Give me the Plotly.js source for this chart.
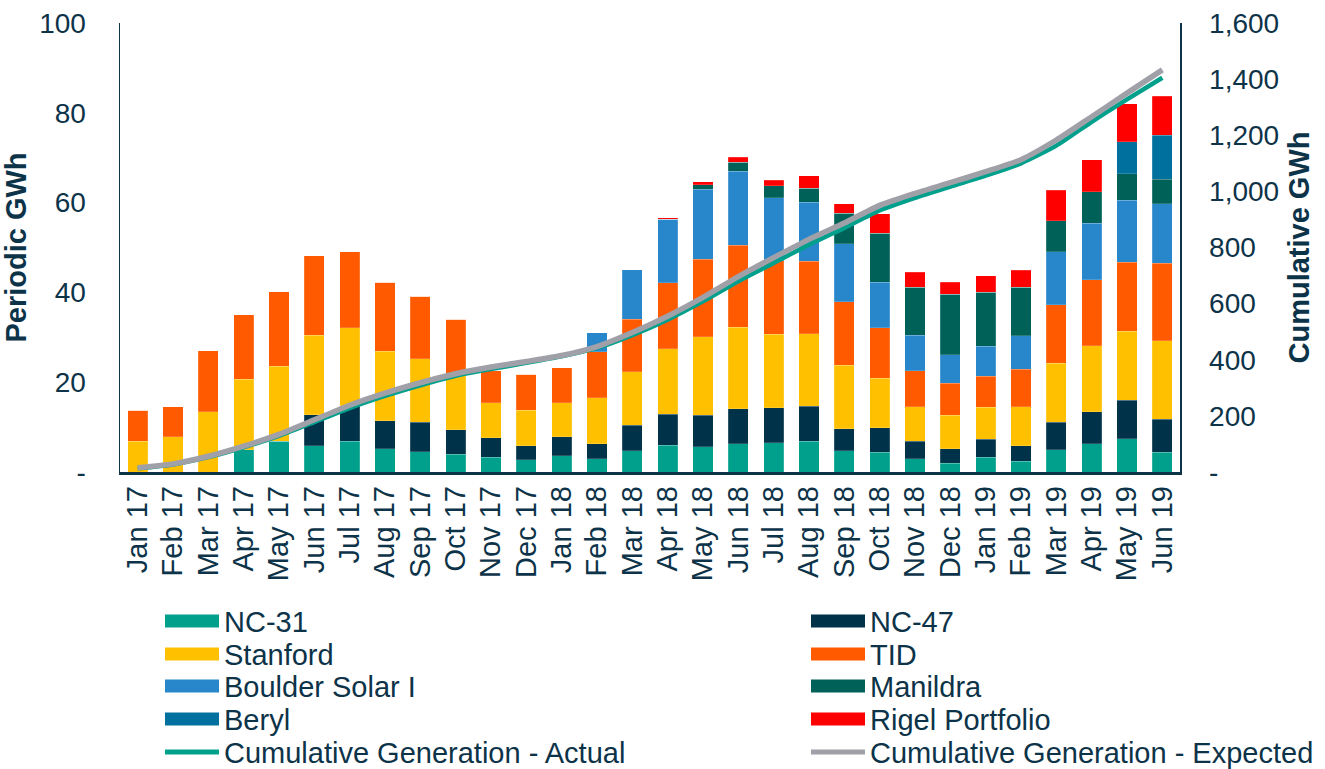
<!DOCTYPE html>
<html>
<head>
<meta charset="utf-8">
<script src="https://cdn.plot.ly/plotly-3.0.1.min.js"></script>
<style>html,body{margin:0;padding:0;background:#fff;}#chart{width:1325px;height:769px;}</style>
</head>
<body>
<div id="chart"></div>
<script>
const months = ["Jan 17","Feb 17","Mar 17","Apr 17","May 17","Jun 17","Jul 17","Aug 17","Sep 17","Oct 17","Nov 17","Dec 17",
  "Jan 18","Feb 18","Mar 18","Apr 18","May 18","Jun 18","Jul 18","Aug 18","Sep 18","Oct 18","Nov 18","Dec 18",
  "Jan 19","Feb 19","Mar 19","Apr 19","May 19","Jun 19"];

const nc31     = [0,0,0,5.0,6.8,5.8,6.9,5.2,4.5,4.0,3.3,2.7, 3.6,2.9,4.7,6.0,5.6,6.3,6.5,6.9,4.7,4.4,2.9,2.0, 3.3,2.4,5.0,6.3,7.4,4.4];
const nc47     = [0,0,0,0,0,6.9,7.9,6.2,6.6,5.4,4.3,3.2, 4.2,3.4,5.7,6.9,7.0,7.8,7.8,7.8,4.9,5.5,3.9,3.2, 4.0,3.5,6.1,7.1,8.6,7.4];
const stanford = [6.8,7.8,13.4,15.7,16.8,17.8,17.3,15.5,14.1,12.2,7.8,7.9, 7.6,10.2,11.9,14.6,17.5,18.1,16.4,16.1,14.2,11.0,7.7,7.4, 7.1,8.6,13.1,14.7,15.4,17.4];
const tid      = [6.9,6.7,13.6,14.3,16.6,17.7,17.0,15.4,13.9,12.4,7.2,8.0, 7.8,10.3,11.7,14.7,17.3,18.3,16.4,16.1,14.1,11.2,8.0,7.2, 6.9,8.4,13.0,14.7,15.3,17.3];
const boulder  = [0,0,0,0,0,0,0,0,0,0,0,0, 0,4.2,11.1,14.1,15.6,16.5,14.0,13.2,12.9,10.2,8.0,6.3, 6.7,7.4,11.9,12.6,13.8,13.3];
const manildra = [0,0,0,0,0,0,0,0,0,0,0,0, 0,0,0,0,1.0,2.0,2.7,3.1,6.8,10.9,10.7,13.5, 12.0,10.9,6.9,7.0,5.9,5.4];
const beryl    = [0,0,0,0,0,0,0,0,0,0,0,0, 0,0,0,0,0,0,0,0,0,0,0,0, 0,0,0,0,7.2,9.8];
const rigel    = [0,0,0,0,0,0,0,0,0,0,0,0, 0,0,0,0.3,0.7,1.1,1.2,2.8,2.2,4.3,3.3,2.7, 3.7,3.7,6.8,7.2,8.4,8.7];

const cumActual   = [13,27,53,88,129,178,228,271,309,343,367,389, 412,442,488,543,608,680,745,810,870,932,977,1017, 1056,1100,1163,1248,1328,1405];
const cumExpected = [15,29,56,92,134,186,238,281,318,350,374,394, 415,447,497,555,622,696,764,829,887,950,993,1031, 1070,1113,1183,1266,1350,1433];

const leftTicks = [0,20,40,60,80,100];
const leftTickText = ["-","20","40","60","80","100"];
const rightTicks = [0,200,400,600,800,1000,1200,1400,1600];
const rightTickText = ["-","200","400","600","800","1,000","1,200","1,400","1,600"];

const seriesNames  = ["NC-31","NC-47","Stanford","TID","Boulder Solar I","Manildra","Beryl","Rigel Portfolio"];
const seriesColors = ["#00A08C","#003349","#FFC000","#FF5A00","#2787CA","#006158","#00709F","#FF0000"];
const seriesValues = [nc31, nc47, stanford, tid, boulder, manildra, beryl, rigel];
const lineNames  = ["Cumulative Generation - Actual","Cumulative Generation - Expected"];
const lineColors = ["#00A08C","#A0A0A8"];

const txt = "#0D3349";
const fontFam = "Liberation Sans, Arial, sans-serif";

const traces = seriesNames.map((name, i) => ({
  type: "bar", name: name, x: months, y: seriesValues[i],
  marker: {color: seriesColors[i], line: {color: "rgba(255,255,255,0.35)", width: 0.5}},
  showlegend: false
}));
traces.push({type: "scatter", mode: "lines", name: lineNames[0], x: months, y: cumActual, showlegend: false,
  yaxis: "y2", line: {color: lineColors[0], width: 4.5, shape: "spline", smoothing: 0.6}});
traces.push({type: "scatter", mode: "lines", name: lineNames[1], x: months, y: cumExpected, showlegend: false,
  yaxis: "y2", line: {color: lineColors[1], width: 5.5, shape: "spline", smoothing: 0.6}});

// Two-column legend placed below the plot (plot area spans 120..1180 px in x, 472..23 px in y)
const plotL = 120, plotW = 1060, plotB = 472, plotH = 449;
const px = v => (v - plotL) / plotW;
const py = v => (plotB - v) / plotH;
const legItems = [];
seriesNames.forEach((n, i) => legItems.push({name: n, color: seriesColors[i], kind: "bar"}));
lineNames.forEach((n, i) => legItems.push({name: n, color: lineColors[i], kind: "line"}));
const colX = [165, 811];
const rowY = [621, 654, 686, 719, 752];
const shapes = [], annotations = [];
legItems.forEach((it, i) => {
  const c = i % 2, r = Math.floor(i / 2);
  const x0 = colX[c], x1 = colX[c] + 54, yc = rowY[r];
  const hh = it.kind === "bar" ? 6.5 : 2.5;
  shapes.push({type: "rect", xref: "paper", yref: "paper", x0: px(x0), x1: px(x1), y0: py(yc + hh), y1: py(yc - hh),
    fillcolor: it.color, line: {width: 0}, layer: "above"});
  annotations.push({xref: "paper", yref: "paper", x: px(x1 + 3), y: py(yc + 1), xanchor: "left", yanchor: "middle",
    text: it.name, showarrow: false, font: {size: 29, color: txt, family: fontFam}});
});

const layout = {
  width: 1325, height: 769,
  margin: {l: 120, r: 145, t: 23, b: 297},
  paper_bgcolor: "#fff", plot_bgcolor: "#fff",
  font: {family: fontFam, color: txt, size: 22},
  barmode: "stack", bargap: 0.43,
  showlegend: false,
  shapes: shapes, annotations: annotations,
  xaxis: {type: "category", tickangle: -90, tickfont: {size: 29, color: txt},
    showline: true, linecolor: txt, linewidth: 2.5, ticks: "", showgrid: false, zeroline: false,
    range: [-0.5, 29.5], automargin: false},
  yaxis: {range: [0, 100], tickvals: leftTicks, ticktext: leftTickText, tickfont: {size: 28, color: txt},
    showline: true, linecolor: txt, linewidth: 1.5, showgrid: false, zeroline: false,
    ticks: "", ticklabelstandoff: 27, automargin: false,
    title: {text: "<b>Periodic GWh</b>", font: {size: 29, color: txt}, standoff: 10}},
  yaxis2: {range: [0, 1600], overlaying: "y", side: "right", tickvals: rightTicks, ticktext: rightTickText,
    tickfont: {size: 28, color: txt}, showline: true, linecolor: txt, linewidth: 1.5, showgrid: false,
    zeroline: false, ticks: "", ticklabelstandoff: 22, automargin: false,
    title: {text: "<b>Cumulative GWh</b>", font: {size: 29, color: txt}, standoff: 10}}
};
Plotly.newPlot("chart", traces, layout, {displayModeBar: false, staticPlot: true});
</script>
</body>
</html>
